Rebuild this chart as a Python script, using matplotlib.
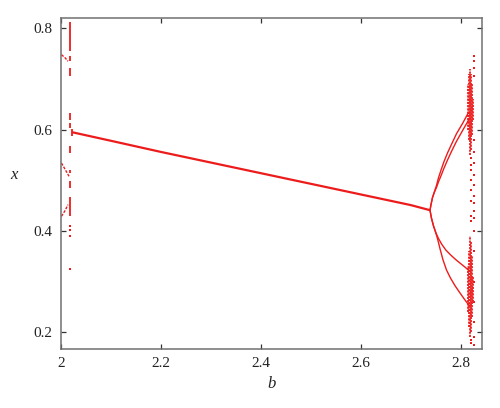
import matplotlib
matplotlib.use("Agg")
import matplotlib.pyplot as plt

RED = "#ec1c1c"

# main period-1 branch
main_b = [2.022, 2.1, 2.2, 2.3, 2.4, 2.5, 2.6, 2.7, 2.738]
main_x = [0.595, 0.578, 0.556, 0.535, 0.514, 0.493, 0.472, 0.451, 0.441]

# upper pair of branches after bifurcation
up1_b = [2.738, 2.740, 2.743, 2.747, 2.751, 2.755, 2.760, 2.766, 2.773, 2.781, 2.791, 2.803, 2.815]
up1_x = [0.441, 0.452, 0.466, 0.478, 0.490, 0.505, 0.520, 0.537, 0.554, 0.571, 0.592, 0.612, 0.634]
up2_b = [2.738, 2.740, 2.743, 2.747, 2.751, 2.755, 2.760, 2.766, 2.773, 2.781, 2.791, 2.803, 2.817]
up2_x = [0.441, 0.452, 0.466, 0.477, 0.486, 0.497, 0.509, 0.524, 0.540, 0.557, 0.577, 0.598, 0.622]

# lower branches
lo1_b = [2.738, 2.741, 2.745, 2.750, 2.755, 2.762, 2.770, 2.780, 2.790, 2.800, 2.810, 2.818]
lo1_x = [0.441, 0.425, 0.410, 0.396, 0.385, 0.373, 0.362, 0.352, 0.343, 0.335, 0.327, 0.320]
lo2_b = [2.738, 2.741, 2.745, 2.749, 2.753, 2.758, 2.764, 2.771, 2.779, 2.788, 2.797, 2.807, 2.817]
lo2_x = [0.441, 0.425, 0.410, 0.398, 0.385, 0.365, 0.343, 0.323, 0.307, 0.292, 0.279, 0.265, 0.252]

# chaotic band: dense vertical ranges
chaos_b = [2.8145, 2.8145, 2.8165, 2.8165, 2.8185, 2.8185, 2.8205, 2.8205,
           2.8225, 2.8225, 2.8245, 2.8245]
chaos_lo = [0.60, 0.24, 0.58, 0.21, 0.55, 0.19, 0.56, 0.20, 0.59, 0.23, 0.62, 0.26]
chaos_hi = [0.69, 0.33, 0.71, 0.36, 0.72, 0.39, 0.71, 0.38, 0.69, 0.35, 0.66, 0.31]

# sparse chaotic dots
dots_b1 = 2.8255
dots_x1 = [0.745, 0.735, 0.722, 0.705, 0.58, 0.555, 0.535, 0.51, 0.49, 0.47,
           0.455, 0.44, 0.425, 0.40, 0.36, 0.30, 0.26, 0.22, 0.19, 0.175]
dots_b2 = 2.8200
dots_x2 = [0.545, 0.53, 0.52, 0.50, 0.48, 0.46, 0.43, 0.42, 0.185, 0.178]

# left-edge column near b = 2.018
left_b = 2.018
left_lo = [0.755, 0.735, 0.705, 0.62, 0.604, 0.554, 0.515, 0.485, 0.43]
left_hi = [0.812, 0.745, 0.722, 0.633, 0.614, 0.567, 0.521, 0.498, 0.468]
left_dots = [0.409, 0.4025, 0.391, 0.325]

# little wedges at b = 2.0
wedge1_b = [2.001, 2.008, 2.014]
wedge1_x = [0.748, 0.742, 0.735]
wedge2_b = [2.001, 2.008, 2.016]
wedge2_x = [0.534, 0.522, 0.508]
wedge3_b = [2.001, 2.008, 2.014]
wedge3_x = [0.429, 0.440, 0.452]

# T at start of main line
tee_b = 2.022
tee_lo, tee_hi = 0.588, 0.601

xticks = [2, 2.2, 2.4, 2.6, 2.8]
xticklabels = ["2", "2.2", "2.4", "2.6", "2.8"]
yticks = [0.2, 0.4, 0.6, 0.8]
yticklabels = ["0.2", "0.4", "0.6", "0.8"]

plt.rcParams["font.family"] = ["Liberation Serif", "DejaVu Serif"]

fig = plt.figure(figsize=(5.0, 4.08), dpi=100)
ax = fig.add_axes([0.122, 0.1446, 0.842, 0.812])

ax.plot(main_b, main_x, color=RED, lw=1.6, solid_capstyle="butt")
for bb, xx in [(up1_b, up1_x), (up2_b, up2_x), (lo1_b, lo1_x), (lo2_b, lo2_x)]:
    ax.plot(bb, xx, color=RED, lw=1.0)

ax.vlines(chaos_b, chaos_lo, chaos_hi, color=RED, lw=1.3, linestyles=(0, (1.2, 0.6)))
ax.plot([dots_b1] * len(dots_x1), dots_x1, ls="none", marker="s", ms=1.5, color=RED, mew=0)
ax.plot([dots_b2] * len(dots_x2), dots_x2, ls="none", marker="s", ms=1.5, color=RED, mew=0)

ax.vlines([left_b] * len(left_lo), left_lo, left_hi, color=RED, lw=1.3)
ax.plot([left_b] * len(left_dots), left_dots, ls="none", marker="s", ms=1.6, color=RED, mew=0)
for bb, xx in [(wedge1_b, wedge1_x), (wedge2_b, wedge2_x), (wedge3_b, wedge3_x)]:
    ax.plot(bb, xx, color=RED, lw=1.0, ls=(0, (2, 1)))
ax.vlines([tee_b], [tee_lo], [tee_hi], color=RED, lw=1.3)

ax.set_xlim(2.0, 2.842)
ax.set_ylim(0.167, 0.821)
ax.set_xticks(xticks)
ax.set_xticklabels(xticklabels)
ax.set_yticks(yticks)
ax.set_yticklabels(yticklabels)

for s in ax.spines.values():
    s.set_color("#707070")
    s.set_linewidth(1.1)
ax.tick_params(direction="in", length=3.5, width=0.9, color="#333333",
               top=True, right=True, labelsize=11, labelcolor="#222222", pad=6)

ax.set_xlabel("b", fontsize=12, style="italic", color="#222222", labelpad=4)
ax.set_ylabel("x", fontsize=12, style="italic", color="#222222", rotation=0, labelpad=14)

fig.savefig("out.png", dpi=100)
